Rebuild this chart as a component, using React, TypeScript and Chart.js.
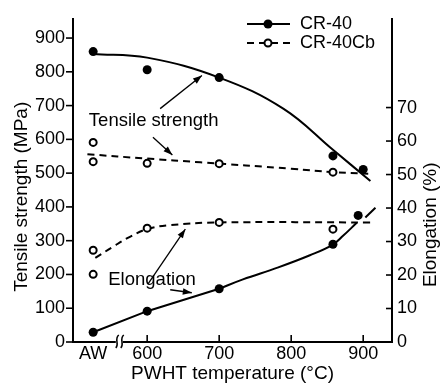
import React, { useEffect, useRef } from 'react';
import { Chart, registerables } from 'chart.js';

Chart.register(...registerables);

const FONT = '"Liberation Sans", Arial, Helvetica, sans-serif';
const FS = 18;

// x positions: "AW" (as-welded) is placed on the temperature axis left of the break
const AW = 525;
const xTickValues = [AW, 600, 700, 800, 900];
const xTickLabels = ['AW', '600', '700', '800', '900'];
const strengthTicks = [0, 100, 200, 300, 400, 500, 600, 700, 800, 900];
const elongTicks = [0, 10, 20, 30, 40, 50, 60, 70];

// measured points — CR-40
const cr40StrengthTemps = [AW, 600, 700, 858, 900];
const cr40Strength = [860, 806, 783, 551, 511];
const cr40ElongTemps = [AW, 600, 700, 858, 893];
const cr40Elong = [2.9, 9.2, 15.9, 29.2, 37.8];

// measured points — CR-40Cb
const cbTemps = [AW, AW, 600, 700, 858];
const cbStrength = [591, 534, 529, 528, 503];
const cbElong = [27.4, 20.2, 34.0, 35.7, 33.7];

// trend curves
const cr40StrengthCurveT = [525, 600, 700, 789, 858, 910];
const cr40StrengthCurve = [853, 842, 783, 691, 569, 477];
const cbStrengthCurveT = [517, 600, 674, 800, 858, 907];
const cbStrengthCurve = [556, 543, 532, 513, 503, 498];
const cr40ElongLowT = [525, 600, 700];
const cr40ElongLow = [2.9, 9.2, 15.9];
const cr40ElongHighT = [700, 733, 781, 826, 858, 872, 891];
const cr40ElongHigh = [15.9, 18.7, 22.2, 25.9, 29.1, 31.7, 35.6];
const cr40ElongTailT = [903, 917];
const cr40ElongTail = [37.2, 40.1];
const cbElongCurveT = [528, 553, 576, 600, 632, 700, 912];
const cbElongCurve = [25.1, 28.5, 31.4, 33.7, 34.9, 35.7, 35.7];

const zip = (xs: number[], ys: number[]) => xs.map((x, i) => ({ x, y: ys[i] }));

const DASH = [7, 5];

function arrow(ctx: CanvasRenderingContext2D, x1: number, y1: number, x2: number, y2: number) {
  ctx.beginPath();
  ctx.moveTo(x1, y1);
  ctx.lineTo(x2, y2);
  ctx.stroke();
  const a = Math.atan2(y2 - y1, x2 - x1);
  const L = 9, W = 3.2;
  ctx.beginPath();
  ctx.moveTo(x2, y2);
  ctx.lineTo(x2 - L * Math.cos(a) + W * Math.sin(a), y2 - L * Math.sin(a) - W * Math.cos(a));
  ctx.lineTo(x2 - L * Math.cos(a) - W * Math.sin(a), y2 - L * Math.sin(a) + W * Math.cos(a));
  ctx.closePath();
  ctx.fill();
}

const overlay = {
  id: 'overlay',
  afterDraw(chart: any) {
    const { ctx, chartArea: ca, scales } = chart;
    const x = scales.x, y = scales.y, y2 = scales.y2;
    ctx.save();
    ctx.strokeStyle = '#000';
    ctx.fillStyle = '#000';
    ctx.lineWidth = 1.6;
    // left ticks (outside)
    strengthTicks.forEach((v) => {
      const py = y.getPixelForValue(v);
      ctx.beginPath(); ctx.moveTo(ca.left - 7, py); ctx.lineTo(ca.left, py); ctx.stroke();
    });
    // right ticks (inside)
    elongTicks.forEach((v) => {
      const py = y2.getPixelForValue(v);
      ctx.beginPath(); ctx.moveTo(ca.right - 6, py); ctx.lineTo(ca.right, py); ctx.stroke();
    });
    // x ticks (inside)
    xTickValues.filter((v) => v !== AW).forEach((v) => {
      const px = x.getPixelForValue(v);
      ctx.beginPath(); ctx.moveTo(px, ca.bottom); ctx.lineTo(px, ca.bottom - 7); ctx.stroke();
    });
    // axis break
    const bx = x.getPixelForValue(562);
    const by = ca.bottom;
    ctx.fillStyle = '#fff';
    ctx.fillRect(bx - 4, by - 2, 7, 4);
    ctx.fillStyle = '#000';
    ctx.lineWidth = 1.5;
    [bx - 3, bx + 2].forEach((sx) => {
      ctx.beginPath();
      ctx.moveTo(sx + 2, by - 7);
      ctx.bezierCurveTo(sx - 3, by - 3, sx + 3, by + 2, sx - 1, by + 6);
      ctx.stroke();
    });

    ctx.textBaseline = 'middle';
    // axis titles
    ctx.font = `19px ${FONT}`;
    ctx.textAlign = 'center';
    ctx.fillText('PWHT temperature (°C)', (ca.left + ca.right) / 2, 374);
    ctx.save();
    ctx.translate(22, y.getPixelForValue(430));
    ctx.rotate(-Math.PI / 2);
    ctx.fillText('Tensile strength (MPa)', 0, 0);
    ctx.restore();
    ctx.save();
    ctx.translate(431, (y2.getPixelForValue(0) + y2.getPixelForValue(70)) / 2);
    ctx.rotate(-Math.PI / 2);
    ctx.fillText('Elongation (%)', 0, 0);
    ctx.restore();

    // annotations
    ctx.font = `18.5px ${FONT}`;
    ctx.textAlign = 'left';
    ctx.fillText('Tensile strength', x.getPixelForValue(519), y.getPixelForValue(654));
    ctx.fillText('Elongation', x.getPixelForValue(546), y2.getPixelForValue(18.4));
    ctx.lineWidth = 1.3;
    arrow(ctx, x.getPixelForValue(618), y.getPixelForValue(691), x.getPixelForValue(676), y.getPixelForValue(789));
    arrow(ctx, x.getPixelForValue(608), y.getPixelForValue(606), x.getPixelForValue(635), y.getPixelForValue(554));
    arrow(ctx, x.getPixelForValue(601), y2.getPixelForValue(17.3), x.getPixelForValue(653), y2.getPixelForValue(33.7));
    arrow(ctx, x.getPixelForValue(632), y2.getPixelForValue(15.6), x.getPixelForValue(662), y2.getPixelForValue(14.7));

    // legend
    ctx.font = `${FS}px ${FONT}`;
    const lx1 = 247, lx2 = 290, lm = 268, tx = 300;
    const ly1 = 24, ly2 = 43;
    ctx.lineWidth = 2;
    ctx.beginPath(); ctx.moveTo(lx1, ly1); ctx.lineTo(lx2, ly1); ctx.stroke();
    ctx.beginPath(); ctx.arc(lm, ly1, 4.5, 0, Math.PI * 2); ctx.fill();
    ctx.setLineDash(DASH);
    ctx.beginPath(); ctx.moveTo(lx1, ly2); ctx.lineTo(lx2, ly2); ctx.stroke();
    ctx.setLineDash([]);
    ctx.fillStyle = '#fff';
    ctx.beginPath(); ctx.arc(lm, ly2, 3.5, 0, Math.PI * 2); ctx.fill(); ctx.stroke();
    ctx.fillStyle = '#000';
    ctx.fillText('CR-40', tx, ly1);
    ctx.fillText('CR-40Cb', tx, ly2);
    ctx.restore();
  },
};

export default function App() {
  const ref = useRef<HTMLCanvasElement | null>(null);
  useEffect(() => {
    if (!ref.current) return;
    Chart.defaults.font.family = FONT;
    const filled = {
      showLine: false,
      pointRadius: 4.5,
      pointBackgroundColor: '#000',
      pointBorderColor: '#000',
      pointBorderWidth: 0,
      order: 0,
    };
    const open = {
      showLine: false,
      pointRadius: 3.5,
      pointBackgroundColor: '#fff',
      pointBorderColor: '#000',
      pointBorderWidth: 2,
      order: 0,
    };
    const solid = {
      pointRadius: 0,
      borderColor: '#000',
      borderWidth: 2,
      tension: 0.4,
      fill: false,
      order: 1,
    };
    const straight = { ...solid, tension: 0 };
    const dashed = { ...solid, borderDash: DASH };
    const chart = new Chart(ref.current, {
      type: 'line',
      data: {
        datasets: [
          { label: 'CR-40 strength trend', data: zip(cr40StrengthCurveT, cr40StrengthCurve), yAxisID: 'y', ...solid },
          { label: 'CR-40Cb strength trend', data: zip(cbStrengthCurveT, cbStrengthCurve), yAxisID: 'y', ...dashed },
          { label: 'CR-40 elongation trend (low)', data: zip(cr40ElongLowT, cr40ElongLow), yAxisID: 'y2', ...straight },
          { label: 'CR-40 elongation trend (high)', data: zip(cr40ElongHighT, cr40ElongHigh), yAxisID: 'y2', ...solid },
          { label: 'CR-40 elongation trend (tail)', data: zip(cr40ElongTailT, cr40ElongTail), yAxisID: 'y2', ...straight },
          { label: 'CR-40Cb elongation trend', data: zip(cbElongCurveT, cbElongCurve), yAxisID: 'y2', ...dashed },
          { label: 'CR-40 strength', data: zip(cr40StrengthTemps, cr40Strength), yAxisID: 'y', ...filled },
          { label: 'CR-40Cb strength', data: zip(cbTemps, cbStrength), yAxisID: 'y', ...open },
          { label: 'CR-40 elongation', data: zip(cr40ElongTemps, cr40Elong), yAxisID: 'y2', ...filled },
          { label: 'CR-40Cb elongation', data: zip(cbTemps, cbElong), yAxisID: 'y2', ...open },
        ] as any,
      },
      options: {
        animation: false,
        responsive: false,
        layout: { padding: { top: 8, left: 0, right: 0, bottom: 0 } },
        plugins: { legend: { display: false }, tooltip: { enabled: false } },
        scales: {
          x: {
            type: 'linear',
            min: 497,
            max: 940,
            grid: { display: false, drawTicks: false },
            border: { display: true, width: 2, color: '#000' },
            afterBuildTicks: (s: any) => { s.ticks = xTickValues.map((v) => ({ value: v })); },
            afterFit: (s: any) => { s.height = 42; },
            ticks: {
              color: '#000',
              font: { size: FS, family: FONT },
              padding: 1,
              maxRotation: 0,
              autoSkip: false,
              callback: (v: any) => xTickLabels[xTickValues.indexOf(Number(v))] ?? '',
            },
          },
          y: {
            type: 'linear',
            position: 'left',
            min: 0,
            max: 957,
            grid: { display: false, drawTicks: false },
            border: { display: true, width: 2, color: '#000' },
            afterBuildTicks: (s: any) => { s.ticks = strengthTicks.map((v) => ({ value: v })); },
            afterFit: (s: any) => { s.width = 73; },
            ticks: { color: '#000', font: { size: FS, family: FONT }, padding: 8 },
          },
          y2: {
            type: 'linear',
            position: 'right',
            min: 0,
            max: 96.5,
            grid: { display: false, drawTicks: false },
            border: { display: true, width: 2, color: '#000' },
            afterBuildTicks: (s: any) => { s.ticks = elongTicks.map((v) => ({ value: v })); },
            afterFit: (s: any) => { s.width = 49; },
            ticks: { color: '#000', font: { size: FS, family: FONT }, padding: 5 },
          },
        },
      } as any,
      plugins: [overlay],
    });
    return () => chart.destroy();
  }, []);
  return (
    <div style={{ position: 'absolute', left: 0, top: 0, width: 441, height: 384, background: '#fff' }}>
      <canvas ref={ref} width={441} height={384} style={{ width: 441, height: 384 }} />
    </div>
  );
}
